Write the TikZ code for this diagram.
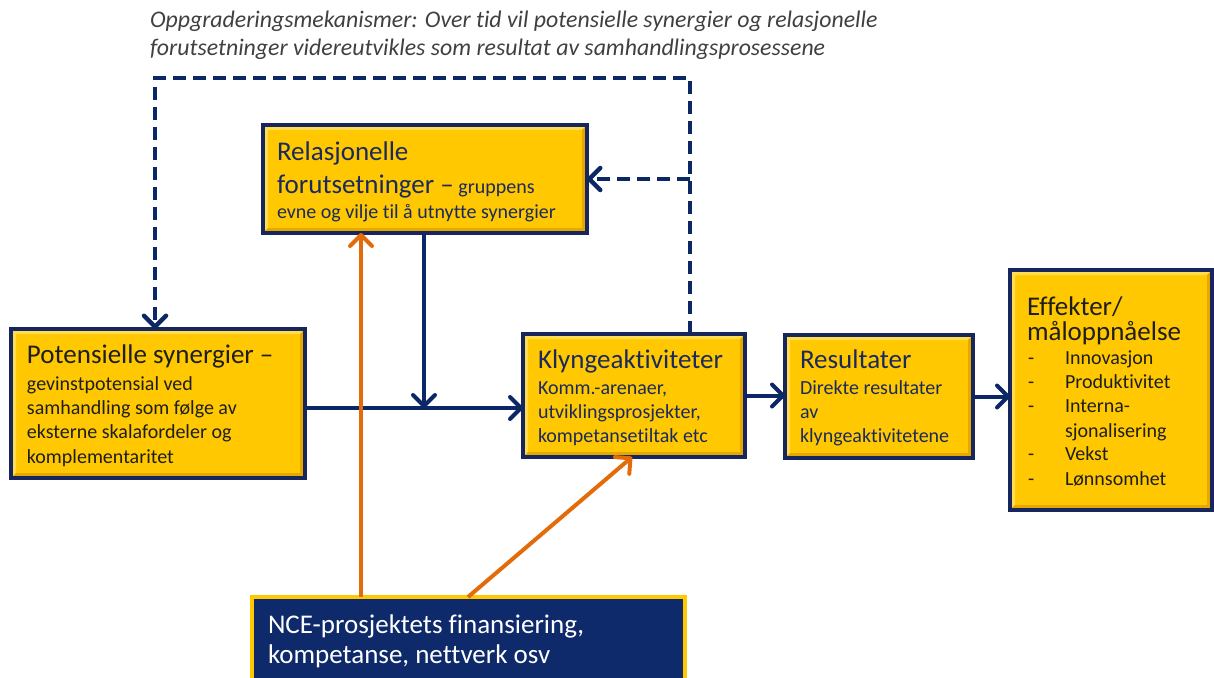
\documentclass[tikz,border=0pt]{standalone}
\usepackage{fontspec}
\setmainfont{Carlito}[Ligatures=NoCommon]
\usetikzlibrary{arrows.meta,shadows}
\definecolor{gold}{HTML}{FFC800}
\definecolor{goldhi}{HTML}{FFDC50}
\definecolor{goldlo}{HTML}{E6A800}
\definecolor{boxline}{HTML}{17275E}
\definecolor{navyarrow}{HTML}{0C2766}
\definecolor{orangearrow}{HTML}{E36C0A}
\definecolor{ncefill}{HTML}{0E2A6B}
\definecolor{navytext}{HTML}{1B2A5E}
\definecolor{darktext}{HTML}{1E1E1E}
\definecolor{titlegray}{HTML}{404040}
\tikzset{
  goldbox/.style={rectangle, inner sep=0pt, outer sep=0pt, anchor=north west,
    fill=gold, draw=boxline, line width=3.5pt,
    drop shadow={opacity=0.25, shadow xshift=2pt, shadow yshift=-2pt},
    path picture={
      \fill[goldhi] (path picture bounding box.south west) -- (path picture bounding box.north west)
        -- (path picture bounding box.north east) -- ([xshift=-5pt,yshift=-5pt]path picture bounding box.north east)
        -- ([xshift=5pt,yshift=-5pt]path picture bounding box.north west) -- ([xshift=5pt,yshift=5pt]path picture bounding box.south west) -- cycle;
      \fill[goldlo] (path picture bounding box.south west) -- (path picture bounding box.south east)
        -- (path picture bounding box.north east) -- ([xshift=-5pt,yshift=-5pt]path picture bounding box.north east)
        -- ([xshift=-5pt,yshift=5pt]path picture bounding box.south east) -- ([xshift=5pt,yshift=5pt]path picture bounding box.south west) -- cycle;
    }},
  ncebox/.style={rectangle, inner sep=0pt, outer sep=0pt, anchor=north west,
    fill=ncefill, draw=gold, line width=4pt},
  txt/.style={anchor=base west, inner sep=0pt, outer sep=0pt},
  bigt/.style={font=\fontsize{27}{32}\selectfont},
  smallt/.style={font=\fontsize{20}{24}\selectfont},
  titlet/.style={font=\fontsize{23.8}{28}\selectfont\itshape, text=titlegray},
  navyln/.style={draw=navyarrow, line width=4pt, -{Straight Barb[length=11pt,width=22pt,round]}},
  dashln/.style={draw=navyarrow, line width=4.5pt, dash pattern=on 13pt off 7pt},
  dashtip/.style={-{Straight Barb[length=11pt,width=22pt,round]}},
  orangeln/.style={draw=orangearrow, line width=4pt, -{Straight Barb[length=11pt,width=22pt,round]}},
}
\begin{document}
\begin{tikzpicture}[x=1pt,y=-1pt]
\useasboundingbox (0,0) rectangle (1214,677);

% title
\node[txt,titlet] (t1) at (150,28) {Oppgraderingsmekanismer: Over tid vil potensielle synergier og relasjonelle};
\node[txt,titlet] (t2) at (150,56) {forutsetninger videreutvikles som resultat av samhandlingsprosessene};

% boxes
\node[goldbox, minimum width=294pt, minimum height=149pt] (pot) at (11,329) {};
\node[goldbox, minimum width=324pt, minimum height=108pt] (rel) at (263,125) {};
\node[goldbox, minimum width=222pt, minimum height=123pt] (klyn) at (523,334) {};
\node[goldbox, minimum width=188pt, minimum height=123pt] (res) at (785,335) {};
\node[goldbox, minimum width=202pt, minimum height=240pt] (eff) at (1010,270) {};
\node[ncebox, minimum width=433pt, minimum height=100pt] (nce) at (252,597) {};

% Potensielle synergier
\node[txt,bigt,text=darktext] (p1) at (27,363) {Potensielle synergier –};
\node[txt,smallt,text=darktext] (p2) at (27,390) {gevinstpotensial ved};
\node[txt,smallt,text=darktext] (p3) at (27,414) {samhandling som følge av};
\node[txt,smallt,text=darktext] (p4) at (27,438) {eksterne skalafordeler og};
\node[txt,smallt,text=darktext] (p5) at (27,463) {komplementaritet};

% Relasjonelle forutsetninger
\node[txt,bigt,text=navytext] (r1) at (277,160) {Relasjonelle};
\node[txt,bigt,text=navytext] (r2) at (277,193) {forutsetninger –\fontsize{20}{24}\selectfont{} gruppens};
\node[txt,smallt,text=navytext] (r3) at (277,218) {evne og vilje til å utnytte synergier};

% Klyngeaktiviteter
\node[txt,bigt,text=navytext] (k1) at (538,368) {Klyngeaktiviteter};
\node[txt,smallt,text=navytext] (k2) at (538,394) {Komm.-arenaer,};
\node[txt,smallt,text=navytext] (k3) at (538,418) {utviklingsprosjekter,};
\node[txt,smallt,text=navytext] (k4) at (538,442) {kompetansetiltak etc};

% Resultater
\node[txt,bigt,text=navytext] (s1) at (800,368) {Resultater};
\node[txt,smallt,text=navytext] (s2) at (800,394) {Direkte resultater};
\node[txt,smallt,text=navytext] (s3) at (800,418) {av};
\node[txt,smallt,text=navytext] (s4) at (800,442) {klyngeaktivitetene};

% Effekter
\node[txt,bigt,text=darktext] (e1) at (1027,315) {Effekter/};
\node[txt,bigt,text=darktext] (e2) at (1027,340) {måloppnåelse};
\node[txt,smallt,text=darktext] (ed1) at (1028,364) {-};
\node[txt,smallt,text=darktext] (ed2) at (1028,388) {-};
\node[txt,smallt,text=darktext] (ed3) at (1028,412) {-};
\node[txt,smallt,text=darktext] (ed4) at (1028,460) {-};
\node[txt,smallt,text=darktext] (ed5) at (1028,485) {-};
\node[txt,smallt,text=darktext] (e3) at (1065,364) {Innovasjon};
\node[txt,smallt,text=darktext] (e4) at (1065,388) {Produktivitet};
\node[txt,smallt,text=darktext] (e5) at (1065,412) {Interna-};
\node[txt,smallt,text=darktext] (e6) at (1065,437) {sjonalisering};
\node[txt,smallt,text=darktext] (e7) at (1065,460) {Vekst};
\node[txt,smallt,text=darktext] (e8) at (1065,485) {Lønnsomhet};

% NCE
\node[txt,bigt,text=white] (n1) at (268,633) {NCE-prosjektets finansiering,};
\node[txt,bigt,text=white] (n2) at (268,663) {kompetanse, nettverk osv};

% helper coordinates
\coordinate (dTR) at (690,78);
\coordinate (dTL) at (155,78);
\coordinate (j) at (424,408);
\coordinate (oA) at (361,0);
\coordinate (oB) at (468,0);
\coordinate (oC) at (632,0);

% dashed feedback
\draw[dashln,dashtip] (klyn.north -| dTR) -- (dTR) -- (dTL) -- (pot.north -| dTL);
\draw[dashln,dashtip] (dTR |- rel.east) -- (rel.east);

% solid navy
\draw[navyln] (pot.east |- j) -- (klyn.west |- j);
\draw[navyln] (rel.south -| j) -- (j);
\draw[navyln] (klyn.east) -- (res.west |- klyn.east);
\draw[navyln] (res.east) -- (eff.west |- res.east);

% orange
\draw[orangeln] (nce.north -| oA) -- (rel.south -| oA);
\draw[orangeln] (nce.north -| oB) -- (klyn.south -| oC);
\end{tikzpicture}
\end{document}
